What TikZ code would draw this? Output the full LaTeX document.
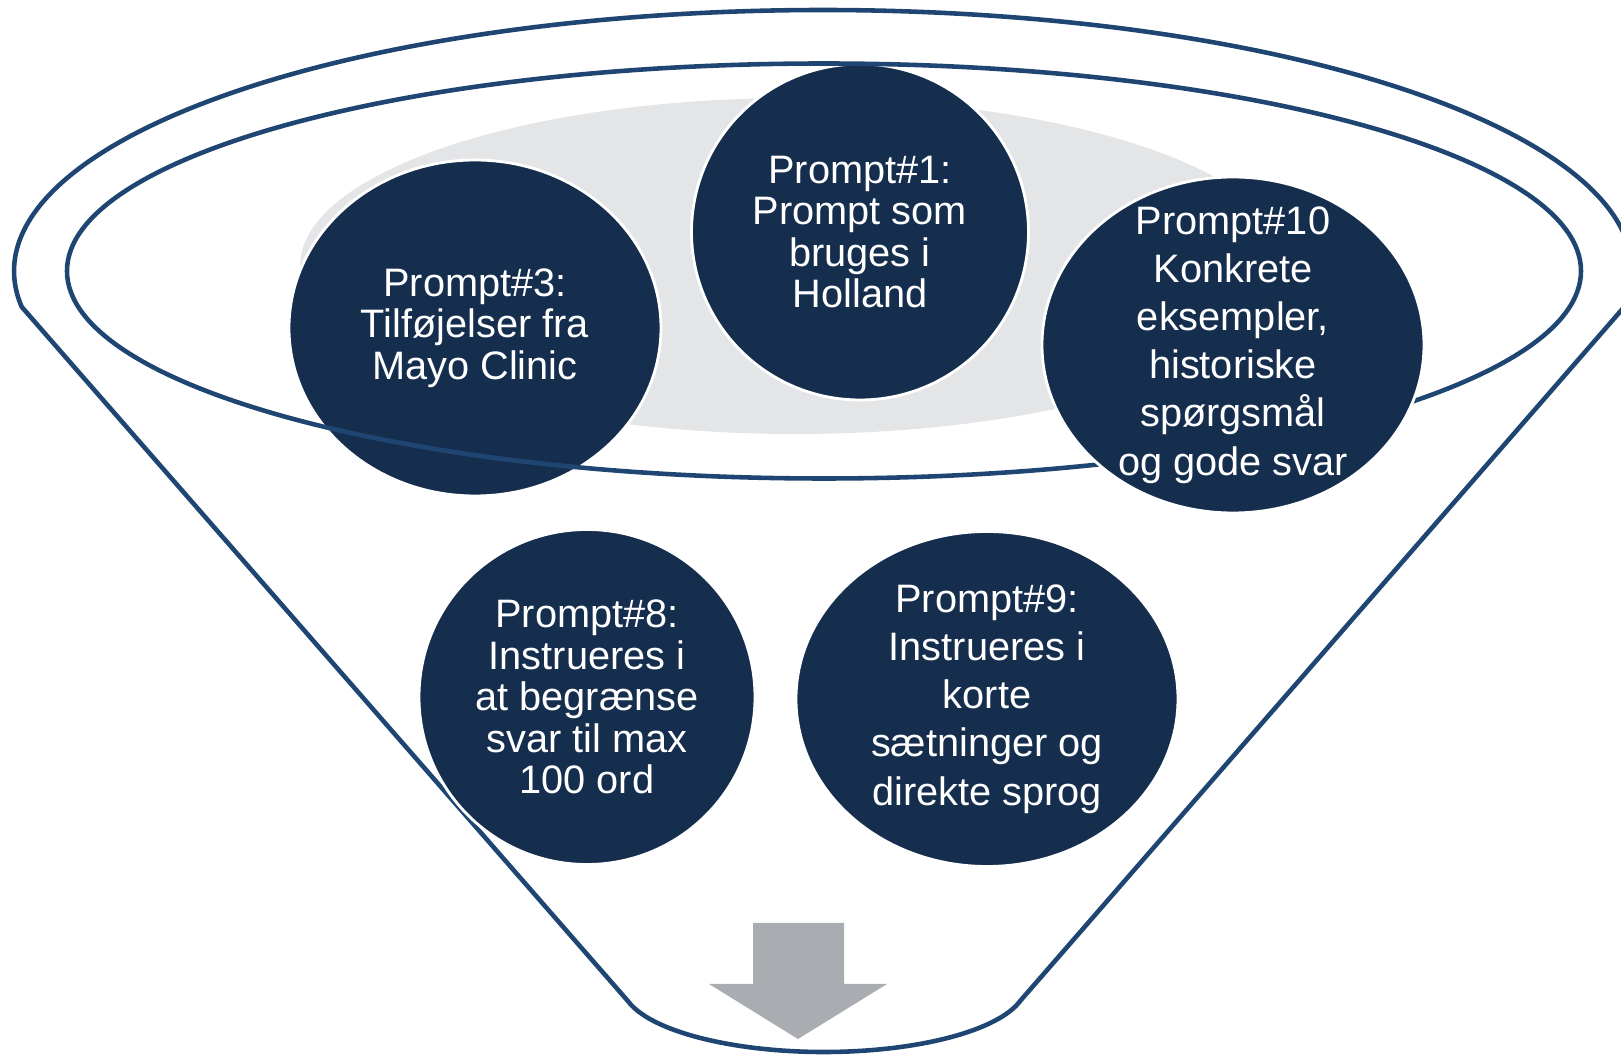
\documentclass[tikz,border=0pt]{standalone}
\usepackage{fontspec}
\setmainfont{Liberation Sans}
\usepackage{tikz}
\usetikzlibrary{shapes.geometric}
\definecolor{navy}{RGB}{22,46,78}
\definecolor{rim}{RGB}{31,69,115}
\definecolor{haze}{RGB}{228,229,231}
\definecolor{pointer}{RGB}{169,172,176}

\begin{document}
\begin{tikzpicture}[prompt/.style={ellipse, fill=navy, draw=white, line width=0.8pt,
                        inner sep=0pt, text=white, align=center,
                        font=\fontsize{11.3}{11.8}\selectfont},
                    loose/.style={inner ysep=-0.3cm, font=\fontsize{11.3}{13.7}\selectfont},
                    rimline/.style={draw=rim, line width=1.3pt}]
                \useasboundingbox (0,0) rectangle (16.21,10.56);
                % grey disc behind the top prompts
                \fill[haze] (7.95,7.90) ellipse [x radius=4.95, y radius=1.68];
                \node[prompt, minimum width=3.72cm, minimum height=3.36cm] (p3) at (4.75,7.28)
                    {Prompt\#3:\\Tilføjelser fra\\Mayo Clinic};
                \node[prompt, minimum width=3.37cm, minimum height=3.36cm] (p1) at (8.60,8.24)
                    {Prompt\#1:\\Prompt som\\bruges i\\Holland};
                % funnel
                \draw[rimline] (8.24,7.85) ellipse [x radius=7.57, y radius=2.075];
                \draw[rimline] ([shift={(-7.9:8.09 and 2.61)}]8.23,7.85)
                    arc[start angle=-7.9, end angle=187.9, x radius=8.09, y radius=2.61]
                    -- ([shift={(193.8:2.02 and 0.67)}]8.24,0.71)
                    arc[start angle=193.8, end angle=346.2, x radius=2.02, y radius=0.67]
                    -- cycle;
                \node[prompt, loose, minimum width=3.82cm, minimum height=3.36cm] (p10) at (12.33,7.11)
                    {Prompt\#10\\Konkrete\\eksempler,\\historiske\\spørgsmål\\og gode svar};
                \node[prompt, minimum width=3.36cm, minimum height=3.35cm] (p8) at (5.87,3.59)
                    {Prompt\#8:\\Instrueres i\\at begrænse\\svar til max\\100 ord};
                \node[prompt, loose, minimum width=3.82cm, minimum height=3.35cm] (p9) at (9.87,3.57)
                    {Prompt\#9:\\Instrueres i\\korte\\sætninger og\\direkte sprog};
                % arrow out of the funnel
                \fill[pointer] (7.53,1.33) -- (8.44,1.33) -- (8.44,0.72) -- (8.87,0.72)
                    -- (7.98,0.17) -- (7.09,0.72) -- (7.53,0.72) -- cycle;
\end{tikzpicture}
\end{document}
